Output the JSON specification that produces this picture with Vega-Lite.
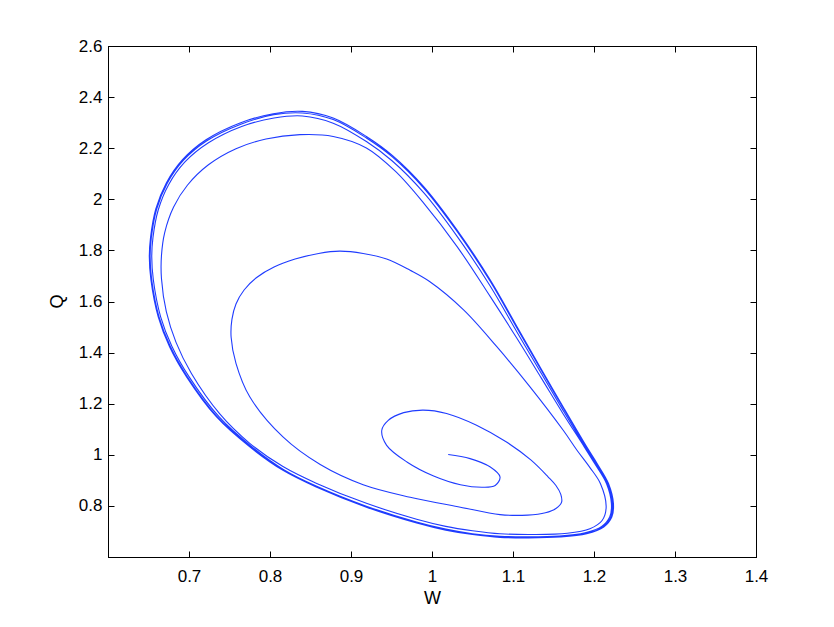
{
  "$schema": "https://vega.github.io/schema/vega-lite/v6.json",
  "width": 648,
  "height": 511,
  "autosize": "none",
  "padding": {"left": 108, "top": 46, "right": 78, "bottom": 70},
  "background": "white",
  "config": {
    "view": {"stroke": "black", "strokeWidth": 1},
    "axis": {
      "grid": false,
      "domainColor": "black",
      "tickColor": "black",
      "labelColor": "black",
      "titleColor": "black",
      "labelFont": "Liberation Sans",
      "titleFont": "Liberation Sans",
      "labelFontSize": 17,
      "titleFontSize": 18,
      "titleFontWeight": "normal",
      "tickSize": -6,
      "labelFlush": false,
      "labelOverlap": false
    }
  },
  "data": {"values": [
    {"t":1,"w":1.020,"q":1.001},{"t":2,"w":1.047,"q":0.985},{"t":3,"w":1.072,"q":0.952},{"t":4,"w":1.084,"q":0.913},
    {"t":5,"w":1.078,"q":0.880},{"t":6,"w":1.063,"q":0.873},{"t":7,"w":1.035,"q":0.883},{"t":8,"w":1.002,"q":0.917},
    {"t":9,"w":0.969,"q":0.972},{"t":10,"w":0.944,"q":1.037},{"t":11,"w":0.938,"q":1.096},{"t":12,"w":0.946,"q":1.135},
    {"t":13,"w":0.965,"q":1.165},{"t":14,"w":0.989,"q":1.175},{"t":15,"w":1.018,"q":1.162},{"t":16,"w":1.055,"q":1.116},
    {"t":17,"w":1.092,"q":1.050},{"t":18,"w":1.122,"q":0.980},{"t":19,"w":1.143,"q":0.915},{"t":20,"w":1.153,"q":0.880},
    {"t":21,"w":1.159,"q":0.845},{"t":21.5,"w":1.160,"q":0.815},{"t":22,"w":1.153,"q":0.790},{"t":23,"w":1.140,"q":0.773},{"t":24,"w":1.118,"q":0.764},
    {"t":25,"w":1.084,"q":0.766},{"t":26,"w":1.035,"q":0.795},{"t":27,"w":0.973,"q":0.834},{"t":28,"w":0.915,"q":0.883},
    {"t":29,"w":0.862,"q":0.962},{"t":30,"w":0.816,"q":1.070},{"t":31,"w":0.775,"q":1.227},{"t":32,"w":0.758,"q":1.358},
    {"t":33,"w":0.752,"q":1.460},{"t":34,"w":0.753,"q":1.530},{"t":35,"w":0.758,"q":1.590},{"t":36,"w":0.768,"q":1.645},
    {"t":37,"w":0.784,"q":1.695},{"t":38,"w":0.805,"q":1.735},{"t":39,"w":0.831,"q":1.766},{"t":40,"w":0.860,"q":1.788},
    {"t":41,"w":0.886,"q":1.797},{"t":42,"w":0.915,"q":1.788},{"t":43,"w":0.944,"q":1.766},{"t":44,"w":0.973,"q":1.722},
    {"t":45,"w":0.997,"q":1.678},{"t":46,"w":1.039,"q":1.567},{"t":47,"w":1.080,"q":1.423},{"t":48,"w":1.121,"q":1.266},
    {"t":49,"w":1.162,"q":1.096},{"t":50,"w":1.179,"q":1.018},{"t":51,"w":1.195,"q":0.950},{"t":52,"w":1.208,"q":0.887},
    {"t":53,"w":1.215,"q":0.795},{"t":54,"w":1.210,"q":0.743},{"t":55,"w":1.195,"q":0.711},{"t":56,"w":1.167,"q":0.693},
    {"t":57,"w":1.125,"q":0.688},{"t":58,"w":1.084,"q":0.691},{"t":59,"w":1.050,"q":0.703},{"t":60,"w":1.017,"q":0.720},
    {"t":61,"w":0.981,"q":0.748},{"t":62,"w":0.919,"q":0.810},{"t":63,"w":0.857,"q":0.889},{"t":64,"w":0.816,"q":0.954},
    {"t":65,"w":0.775,"q":1.045},{"t":66,"w":0.738,"q":1.160},{"t":67,"w":0.703,"q":1.318},{"t":68,"w":0.684,"q":1.440},
    {"t":69,"w":0.672,"q":1.560},{"t":70,"w":0.666,"q":1.690},{"t":71,"w":0.666,"q":1.780},{"t":72,"w":0.670,"q":1.870},
    {"t":73,"w":0.681,"q":1.970},{"t":74,"w":0.698,"q":2.055},{"t":75,"w":0.724,"q":2.135},{"t":76,"w":0.758,"q":2.198},
    {"t":77,"w":0.795,"q":2.236},{"t":78,"w":0.837,"q":2.253},{"t":79,"w":0.878,"q":2.246},{"t":80,"w":0.919,"q":2.201},
    {"t":81,"w":0.955,"q":2.109},{"t":82,"w":0.990,"q":1.984},{"t":83,"w":1.031,"q":1.815},{"t":84,"w":1.072,"q":1.619},
    {"t":85,"w":1.105,"q":1.455},{"t":86,"w":1.135,"q":1.300},{"t":87,"w":1.162,"q":1.160},{"t":88,"w":1.188,"q":1.031},
    {"t":89,"w":1.201,"q":0.965},{"t":90,"w":1.2155,"q":0.887},{"t":91,"w":1.2215,"q":0.809},{"t":92,"w":1.2195,"q":0.758},
    {"t":93,"w":1.2095,"q":0.720},{"t":94,"w":1.189,"q":0.695},{"t":95,"w":1.157,"q":0.682},{"t":96,"w":1.117,"q":0.679},
    {"t":97,"w":1.084,"q":0.681},{"t":98,"w":1.050,"q":0.691},{"t":99,"w":1.017,"q":0.709},{"t":100,"w":0.981,"q":0.737},
    {"t":101,"w":0.919,"q":0.799},{"t":102,"w":0.857,"q":0.878},{"t":103,"w":0.817,"q":0.942},{"t":104,"w":0.777,"q":1.033},
    {"t":105,"w":0.737,"q":1.149},{"t":106,"w":0.700,"q":1.306},{"t":107,"w":0.679,"q":1.424},{"t":108,"w":0.665,"q":1.540},
    {"t":109,"w":0.656,"q":1.684},{"t":110,"w":0.654,"q":1.776},{"t":111,"w":0.6555,"q":1.850},{"t":112,"w":0.662,"q":1.958},
    {"t":113,"w":0.675,"q":2.058},{"t":114,"w":0.695,"q":2.146},{"t":115,"w":0.724,"q":2.221},{"t":116,"w":0.765,"q":2.285},
    {"t":117,"w":0.805,"q":2.318},{"t":118,"w":0.840,"q":2.326},{"t":119,"w":0.878,"q":2.298},{"t":120,"w":0.919,"q":2.226},
    {"t":121,"w":0.951,"q":2.150},{"t":122,"w":0.990,"q":2.025},{"t":123,"w":1.031,"q":1.855},{"t":124,"w":1.072,"q":1.660},
    {"t":125,"w":1.105,"q":1.480},{"t":126,"w":1.135,"q":1.318},{"t":127,"w":1.162,"q":1.173},{"t":128,"w":1.191,"q":1.021},
    {"t":129,"w":1.2025,"q":0.965},{"t":130,"w":1.2167,"q":0.887},{"t":131,"w":1.2228,"q":0.809},{"t":132,"w":1.2208,"q":0.7565},
    {"t":133,"w":1.2108,"q":0.718},{"t":134,"w":1.1903,"q":0.692},{"t":135,"w":1.1577,"q":0.679},{"t":136,"w":1.117,"q":0.676},
    {"t":137,"w":1.084,"q":0.680},{"t":138,"w":1.050,"q":0.689},{"t":139,"w":1.017,"q":0.7065},{"t":140,"w":0.981,"q":0.7345},
    {"t":141,"w":0.919,"q":0.7965},{"t":142,"w":0.857,"q":0.8755},{"t":143,"w":0.8165,"q":0.940},{"t":144,"w":0.776,"q":1.032},
    {"t":145,"w":0.735,"q":1.1485},{"t":146,"w":0.698,"q":1.3055},{"t":147,"w":0.677,"q":1.4235},{"t":148,"w":0.663,"q":1.540},
    {"t":149,"w":0.654,"q":1.684},{"t":150,"w":0.652,"q":1.776},{"t":151,"w":0.6535,"q":1.850},{"t":152,"w":0.660,"q":1.961},
    {"t":153,"w":0.673,"q":2.062},{"t":154,"w":0.693,"q":2.152},{"t":155,"w":0.722,"q":2.229},{"t":156,"w":0.764,"q":2.294},
    {"t":157,"w":0.8045,"q":2.331},{"t":158,"w":0.840,"q":2.338},{"t":159,"w":0.878,"q":2.312},{"t":160,"w":0.919,"q":2.240},
    {"t":161,"w":0.951,"q":2.166},{"t":162,"w":0.990,"q":2.043},{"t":163,"w":1.031,"q":1.874},{"t":164,"w":1.072,"q":1.678},
    {"t":165,"w":1.105,"q":1.495},{"t":166,"w":1.135,"q":1.330},{"t":167,"w":1.162,"q":1.183},{"t":168,"w":1.191,"q":1.028},
    {"t":169,"w":1.2035,"q":0.965},{"t":170,"w":1.2175,"q":0.887},{"t":171,"w":1.2235,"q":0.809},{"t":172,"w":1.2215,"q":0.756},
    {"t":173,"w":1.2115,"q":0.717},{"t":174,"w":1.1907,"q":0.6915},{"t":175,"w":1.158,"q":0.6785},{"t":176,"w":1.117,"q":0.6755},
    {"t":177,"w":1.084,"q":0.678},{"t":178,"w":1.050,"q":0.688},{"t":179,"w":1.017,"q":0.705},{"t":180,"w":0.981,"q":0.733},
    {"t":181,"w":0.919,"q":0.795},{"t":182,"w":0.857,"q":0.874},{"t":183,"w":0.816,"q":0.939},{"t":184,"w":0.775,"q":1.031},
    {"t":185,"w":0.734,"q":1.148},{"t":186,"w":0.697,"q":1.305},{"t":187,"w":0.676,"q":1.423},{"t":188,"w":0.662,"q":1.540},
    {"t":189,"w":0.653,"q":1.684},{"t":190,"w":0.651,"q":1.776},{"t":191,"w":0.6525,"q":1.850},{"t":192,"w":0.659,"q":1.962},
    {"t":193,"w":0.672,"q":2.064},{"t":194,"w":0.692,"q":2.155},{"t":195,"w":0.721,"q":2.233},{"t":196,"w":0.763,"q":2.299},
    {"t":197,"w":0.804,"q":2.335},{"t":198,"w":0.840,"q":2.344},{"t":199,"w":0.878,"q":2.318},{"t":200,"w":0.919,"q":2.246},
    {"t":201,"w":0.951,"q":2.172},{"t":202,"w":0.990,"q":2.049},{"t":203,"w":1.031,"q":1.880},{"t":204,"w":1.072,"q":1.684},
    {"t":205,"w":1.105,"q":1.501},{"t":206,"w":1.135,"q":1.335},{"t":207,"w":1.162,"q":1.187},{"t":208,"w":1.191,"q":1.031},
    {"t":209,"w":1.204,"q":0.965},{"t":210,"w":1.218,"q":0.887},{"t":211,"w":1.224,"q":0.809},{"t":212,"w":1.222,"q":0.756},
    {"t":213,"w":1.212,"q":0.717},{"t":214,"w":1.191,"q":0.691},{"t":215,"w":1.158,"q":0.678},{"t":216,"w":1.117,"q":0.675},
    {"t":217,"w":1.084,"q":0.677},{"t":218,"w":1.050,"q":0.6885},{"t":219,"w":1.017,"q":0.7055}
  ]},
  "layer": [
    {
      "mark": {"type": "line", "color": "#1f3cff", "strokeWidth": 1.1, "interpolate": "catmull-rom", "clip": true},
      "encoding": {
        "x": {"field": "w", "type": "quantitative", "scale": {"domain": [0.6, 1.4], "nice": false, "zero": false},
              "axis": {"orient": "bottom", "title": "W", "values": [0.6,0.7,0.8,0.9,1.0,1.1,1.2,1.3,1.4],
                       "labelExpr": "datum.value < 0.65 ? '' : format(datum.value, '~g')",
                       "labelPadding": 17, "titleY": 41, "titleBaseline": "middle"}},
        "y": {"field": "q", "type": "quantitative", "scale": {"domain": [0.6, 2.6], "nice": false, "zero": false},
              "axis": {"orient": "left", "title": "Q", "values": [0.6,0.8,1.0,1.2,1.4,1.6,1.8,2.0,2.2,2.4,2.6],
                       "labelExpr": "datum.value < 0.65 ? '' : format(datum.value, '~g')",
                       "labelPadding": 12, "titleX": -51, "titleY": 255, "titleAngle": -90, "titleBaseline": "middle", "titleAlign": "center"}},
        "order": {"field": "t", "type": "quantitative"}
      }
    },
    {
      "mark": {"type": "line", "strokeOpacity": 0},
      "encoding": {
        "x": {"field": "w", "type": "quantitative",
              "axis": {"orient": "top", "title": null, "labels": false, "values": [0.6,0.7,0.8,0.9,1.0,1.1,1.2,1.3,1.4]}},
        "y": {"field": "q", "type": "quantitative",
              "axis": {"orient": "right", "title": null, "labels": false, "values": [0.6,0.8,1.0,1.2,1.4,1.6,1.8,2.0,2.2,2.4,2.6]}},
        "order": {"field": "t", "type": "quantitative"}
      }
    }
  ],
  "resolve": {"axis": {"x": "independent", "y": "independent"}}
}
